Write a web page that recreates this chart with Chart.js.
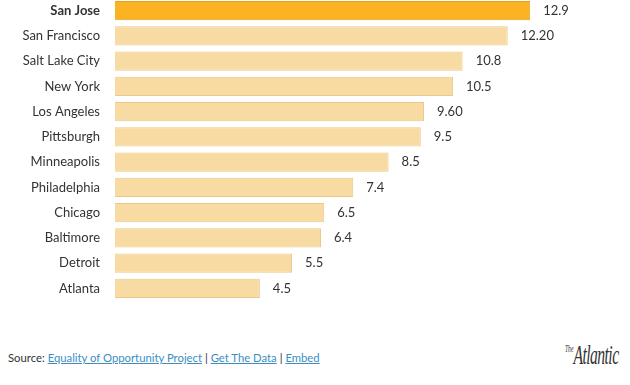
<!DOCTYPE html>
<html>
<head>
<meta charset="utf-8">
<script src="https://cdn.jsdelivr.net/npm/chart.js@4"></script>
<style>
  body { margin: 0; background: #fff; width: 630px; height: 385px; overflow: hidden; position: relative; font-family: Lato, "Open Sans", sans-serif; }
  #chart { position: absolute; left: 0; top: -2px; }
  #source { position: absolute; left: 8px; top: 351px; font-size: 11.3px; color: #333; }
  #source a { color: #3b8ec2; text-decoration: underline; }
  #logo { position: absolute; left: 565px; top: 339px; font-family: "Liberation Serif", "DejaVu Serif", serif; font-style: italic; font-size: 28px; color: #333; letter-spacing: -1px; transform: scaleX(0.56); transform-origin: left; white-space: nowrap; }
  #logo small { font-size: 10px; vertical-align: 12px; letter-spacing: 0; }
</style>
</head>
<body>
<canvas id="chart" width="630" height="303"></canvas>
<div id="source">Source: <a>Equality of Opportunity Project</a> | <a>Get The Data</a> | <a>Embed</a></div>
<div id="logo"><small>The</small>Atlantic</div>
<script>
const cities = ["San Jose", "San Francisco", "Salt Lake City", "New York", "Los Angeles", "Pittsburgh",
    "Minneapolis", "Philadelphia", "Chicago", "Baltimore", "Detroit", "Atlanta"]
const values = [12.9, 12.2, 10.8, 10.5, 9.6, 9.5, 8.5, 7.4, 6.5, 6.4, 5.5, 4.5]
const valueLabels = ["12.9", "12.20", "10.8", "10.5", "9.60", "9.5", "8.5", "7.4", "6.5", "6.4", "5.5", "4.5"]

const fills = cities.map((c, i) => i === 0 ? "#fbb323" : "#f7dba2")
const borders = cities.map((c, i) => i === 0 ? "#e9a21a" : "#ecc98a")

const valueLabelPlugin = {
    id: "valueLabels",
    afterDatasetsDraw(chart) {
        const ctx = chart.ctx
        const meta = chart.getDatasetMeta(0)
        ctx.save()
        ctx.font = "13px Lato, 'Open Sans', sans-serif"
        ctx.fillStyle = "#333"
        ctx.textBaseline = "middle"
        ctx.textAlign = "left"
        meta.data.forEach((bar, i) => {
            ctx.fillText(valueLabels[i], bar.x + 13, bar.y)
        })
        ctx.restore()
    }
}

new Chart(document.getElementById("chart"), {
    type: "bar",
    data: {
        labels: cities,
        datasets: [{
            data: values,
            backgroundColor: fills,
            borderColor: borders,
            borderWidth: 1,
            barPercentage: 0.76,
            categoryPercentage: 1
        }]
    },
    options: {
        indexAxis: "y",
        responsive: false,
        animation: false,
        layout: { padding: 0 },
        plugins: { legend: { display: false }, tooltip: { enabled: false } },
        scales: {
            x: {
                min: 0,
                max: 16,
                display: false
            },
            y: {
                afterFit(scale) {
                    scale.width = 115
                    // no extra room above/below the bars
                    scale.paddingTop = 0
                    scale.paddingBottom = 0
                },
                grid: { display: false, drawTicks: false },
                border: { display: false },
                ticks: {
                    padding: 15,
                    color: "#333",
                    font: ctx => ({
                        family: "Lato, 'Open Sans', sans-serif",
                        size: 13,
                        weight: ctx.index === 0 ? "bold" : "normal"
                    })
                }
            }
        }
    },
    plugins: [valueLabelPlugin]
})
</script>
</body>
</html>
